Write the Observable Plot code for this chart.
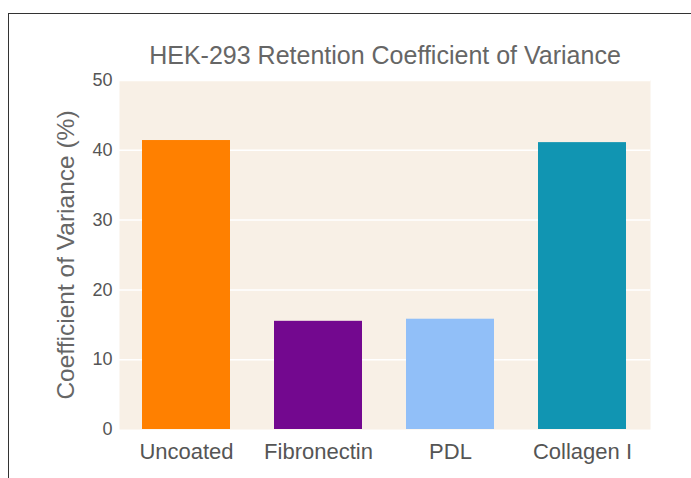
<!DOCTYPE html>
<html>
<head>
<meta charset="utf-8">
<script src="https://cdn.jsdelivr.net/npm/d3@7"></script>
<script src="https://cdn.jsdelivr.net/npm/@observablehq/plot@0.6"></script>
<style>
  html, body { margin: 0; padding: 0; background: #ffffff; }
  #wrap { position: relative; width: 691px; height: 478px; overflow: hidden; }
  #frame { position: absolute; left: 8px; top: 13px; right: 0; bottom: 0;
           border-top: 1.5px solid #333; border-left: 1.5px solid #333; pointer-events: none; }
  #chart { position: absolute; left: 0; top: 0; }
</style>
</head>
<body>
<div id="wrap"><div id="chart"></div><div id="frame"></div></div>
<script>
const categories = ["Uncoated", "Fibronectin", "PDL", "Collagen I"];
const values = [41.4, 15.5, 15.8, 41.1];
const colors = ["#ff8000", "#73088f", "#91bff8", "#1195b2"];
const yTicks = [0, 10, 20, 30, 40, 50];
const gridTicks = [10, 20, 30, 40, 50];
const titleText = "HEK-293 Retention Coefficient of Variance";
const yLabel = "Coefficient of Variance (%)";

const data = categories.map((c, i) => ({category: c, value: values[i], color: colors[i]}));

const chart = Plot.plot({
  width: 691,
  height: 478,
  marginLeft: 119,
  marginRight: 41,
  marginTop: 80,
  marginBottom: 49,
  style: {fontFamily: "'Liberation Sans', Arial, sans-serif", background: "transparent", color: "#555"},
  x: {domain: categories, paddingInner: 0.33, paddingOuter: 0.165, label: null},
  y: {domain: [0, 50], label: null},
  marks: [
    Plot.frame({fill: "#f8f0e6", stroke: "none"}),
    Plot.ruleY(gridTicks, {stroke: "#ffffff", strokeWidth: 1.5}),
    Plot.barY(data, {x: "category", y: "value", fill: "color"}),
    Plot.axisY({ticks: yTicks, tickSize: 0, tickPadding: 7, fontSize: 18, label: null, fill: "#555"}),
    Plot.axisX({tickSize: 0, tickPadding: 14, fontSize: 22, label: null, fill: "#555"}),
    Plot.text([yLabel], {frameAnchor: "left", textAnchor: "middle", lineAnchor: "middle", dx: -53, rotate: -90, fontSize: 24.5, fill: "#666"}),
    Plot.text([titleText], {frameAnchor: "top", textAnchor: "middle", lineAnchor: "middle", dy: -25, fontSize: 25, fill: "#666"})
  ]
});
document.getElementById("chart").appendChild(chart);
</script>
</body>
</html>
